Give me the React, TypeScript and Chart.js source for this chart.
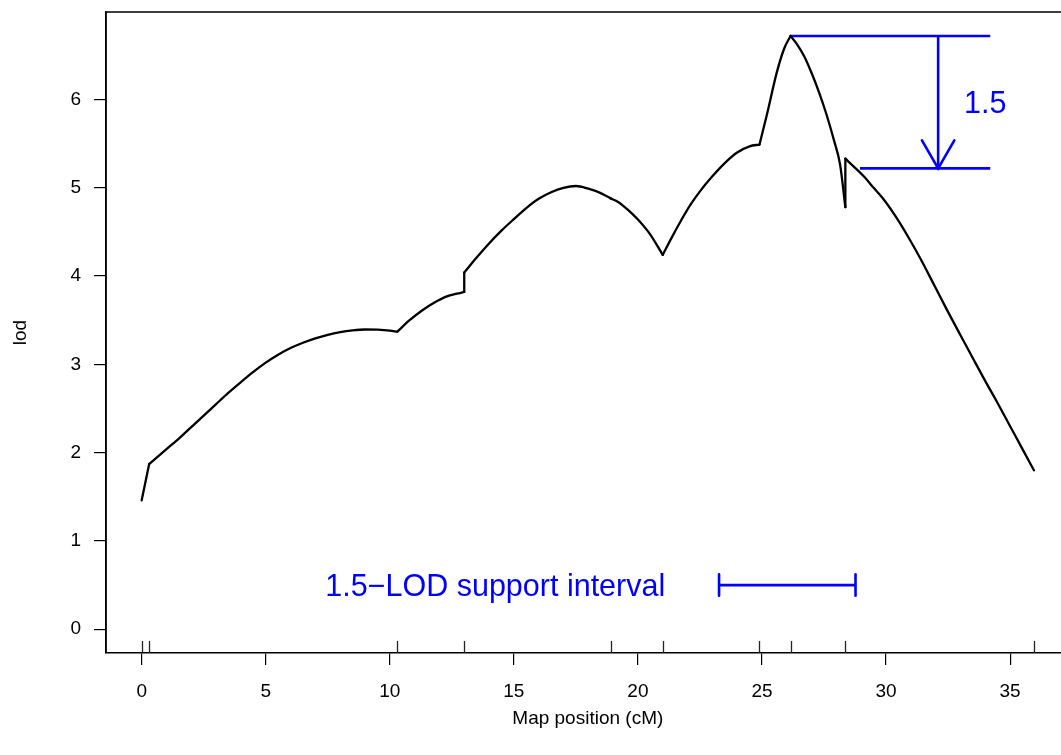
import React, { useEffect, useRef } from "react";
import { Chart, registerables } from "chart.js";

Chart.register(...registerables);

// ---- data ----
const positions = [
  0.0, 0.3, 1.0, 1.5, 2.0, 2.5, 3.0, 3.5, 4.0, 4.5, 5.0, 5.5, 6.0, 6.5, 7.0, 7.5, 8.0, 8.5, 9.0, 9.5, 10.0, 10.3,
  10.8, 11.3, 11.8, 12.3, 12.7, 13.0, 13.0, 13.5, 14.0, 14.5, 15.0, 15.5, 16.0, 16.5, 17.0, 17.5, 18.0, 18.5, 18.9,
  19.2, 19.6, 20.0, 20.5, 21.0, 21.35, 21.7, 22.1, 22.5, 23.0, 23.5, 24.0, 24.5, 24.9, 25.2, 25.6, 25.9, 26.15,
  26.4, 26.7, 27.0, 27.3, 27.6, 27.9, 28.15, 28.36, 28.36, 28.7, 29.1, 29.5, 29.9, 30.4, 30.9, 31.4, 31.9, 32.45,
  33.0, 33.5, 34.0, 34.5, 35.0, 35.5, 35.96,
];
const lods = [
  1.46, 1.87, 2.04, 2.16, 2.29, 2.42, 2.55, 2.68, 2.8, 2.915, 3.02, 3.11, 3.185, 3.245, 3.295, 3.335, 3.365, 3.385, 3.395, 3.393, 3.383, 3.37,
  3.5, 3.61, 3.7, 3.77, 3.8, 3.82, 4.04, 4.21, 4.37, 4.515, 4.645, 4.77, 4.875, 4.95, 5.0, 5.02, 4.99, 4.94, 4.88,
  4.84, 4.75, 4.64, 4.47, 4.24, 4.43, 4.61, 4.8, 4.96, 5.13, 5.28, 5.4, 5.47, 5.49, 5.83, 6.31, 6.58, 6.72,
  6.63, 6.49, 6.3, 6.08, 5.83, 5.54, 5.26, 4.78, 5.33, 5.24, 5.13, 5.0, 4.87, 4.67, 4.44, 4.19, 3.92, 3.62,
  3.33, 3.07, 2.81, 2.56, 2.3, 2.04, 1.8,
];
const markerPositions = [0, 0.3, 10.3, 13.0, 18.9, 21.0, 24.9, 26.15, 28.36, 35.96];
const xTicks = [0, 5, 10, 15, 20, 25, 30, 35];
const yTicks = [0, 1, 2, 3, 4, 5, 6];

const peakLod = 6.72;
const dropLod = 5.22;
const topSegX = [26.13, 34.2];
const bottomSegX = [28.95, 34.2];
const arrowX = 32.1;
const dropLabel = "1.5";
const dropLabelX = 34.0;
const intervalX = [23.27, 28.77];
const intervalY = 0.5;
const intervalLabel = "1.5\u2212LOD support interval";
const intervalLabelX = 14.25;

const xTitle = "Map position (cM)";
const yTitle = "lod";

const FONT = "'Liberation Sans', Arial, Helvetica, sans-serif";
const BLUE = "#0000ff";

type Pt = { x: number; y: number };

// split the curve at marker positions so each interval is smooth and markers stay sharp
function curvePieces(): Pt[][] {
  const pts: Pt[] = positions.map((x, i) => ({ x, y: lods[i] }));
  const pieces: Pt[][] = [];
  let cur: Pt[] = [pts[0]];
  for (let i = 1; i < pts.length; i++) {
    const p = pts[i];
    cur.push(p);
    if (markerPositions.includes(p.x) || p.x === pts[i - 1].x) {
      pieces.push(cur);
      cur = [p];
    }
  }
  if (cur.length > 1) pieces.push(cur);
  return pieces;
}

export default function App() {
  const ref = useRef<HTMLCanvasElement | null>(null);

  useEffect(() => {
    const canvas = ref.current;
    if (!canvas) return;

    const annotPlugin = {
      id: "annot",
      afterDatasetsDraw(chart: any) {
        const { ctx, chartArea } = chart;
        const xs = chart.scales.x;
        const ys = chart.scales.y;
        ctx.save();
        // rug of marker positions
        ctx.strokeStyle = "#222";
        ctx.lineWidth = 1.3;
        markerPositions.forEach((m) => {
          const px = Math.round(xs.getPixelForValue(m)) + 0.5;
          ctx.beginPath();
          ctx.moveTo(px, chartArea.bottom);
          ctx.lineTo(px, chartArea.bottom - 12);
          ctx.stroke();
        });
        // arrow head
        ctx.strokeStyle = BLUE;
        ctx.lineWidth = 2.6;
        ctx.lineCap = "round";
        const ax = xs.getPixelForValue(arrowX);
        const ay = ys.getPixelForValue(dropLod);
        ctx.beginPath();
        ctx.moveTo(ax - 16.2, ay - 28);
        ctx.lineTo(ax, ay);
        ctx.lineTo(ax + 16.2, ay - 28);
        ctx.stroke();
        // interval end caps
        const iy = ys.getPixelForValue(intervalY);
        intervalX.forEach((v) => {
          const px = xs.getPixelForValue(v);
          ctx.beginPath();
          ctx.moveTo(px, iy - 10.7);
          ctx.lineTo(px, iy + 10.7);
          ctx.stroke();
        });
        // texts
        const size = 30.5;
        ctx.fillStyle = BLUE;
        ctx.font = `${size}px ${FONT}`;
        ctx.textAlign = "center";
        ctx.textBaseline = "alphabetic";
        const ly = ys.getPixelForValue((peakLod + dropLod) / 2) + 0.358 * size;
        ctx.fillText(dropLabel, xs.getPixelForValue(dropLabelX), ly);
        ctx.fillText(intervalLabel, xs.getPixelForValue(intervalLabelX), iy + 0.358 * size);
        ctx.restore();
      },
      afterDraw(chart: any) {
        const { ctx, chartArea } = chart;
        ctx.save();
        ctx.strokeStyle = "#000";
        ctx.lineWidth = 1.5;
        ctx.beginPath();
        ctx.moveTo(chartArea.left, chartArea.bottom);
        ctx.lineTo(chartArea.left, chartArea.top);
        ctx.lineTo(chartArea.right, chartArea.top);
        ctx.lineTo(chartArea.right, chartArea.bottom);
        ctx.stroke();
        ctx.restore();
      },
    };

    const seg = (pts: Pt[]) => ({
      data: pts,
      borderColor: BLUE,
      borderWidth: 2.6,
      pointRadius: 0,
      borderCapStyle: "butt" as const,
      tension: 0,
      fill: false,
    });

    const curveSets = curvePieces().map((piece) => {
      const vertical = piece.length === 2 && piece[0].x === piece[1].x;
      return {
        data: piece,
        borderColor: "#000",
        borderWidth: 2.3,
        pointRadius: 0,
        tension: 0,
        cubicInterpolationMode: vertical ? "default" : "monotone",
        fill: false,
        borderJoinStyle: "round",
        borderCapStyle: "round",
      };
    });

    const chart = new Chart(canvas, {
      type: "line",
      data: {
        datasets: [
          ...curveSets,
          seg([
            { x: topSegX[0], y: peakLod },
            { x: topSegX[1], y: peakLod },
          ]),
          seg([
            { x: bottomSegX[0], y: dropLod },
            { x: bottomSegX[1], y: dropLod },
          ]),
          seg([
            { x: arrowX, y: peakLod },
            { x: arrowX, y: dropLod },
          ]),
          seg([
            { x: intervalX[0], y: intervalY },
            { x: intervalX[1], y: intervalY },
          ]),
        ] as any,
      },
      options: {
        animation: false,
        responsive: false,
        devicePixelRatio: 1,
        layout: { padding: { top: 12, right: 10.4, bottom: 0, left: 0 } },
        plugins: { legend: { display: false }, tooltip: { enabled: false } },
        scales: {
          x: {
            type: "linear",
            position: "bottom",
            min: -1.438,
            max: 37.398,
            afterBuildTicks: (s: any) => {
              s.ticks = xTicks.map((v) => ({ value: v }));
            },
            afterFit: (s: any) => {
              s.height = 102;
              s.paddingLeft = 0;
              s.paddingRight = 0;
            },
            grid: { drawOnChartArea: false, drawTicks: true, tickLength: 12, color: "#000", lineWidth: 1.2 },
            border: { display: true, color: "#000", width: 1.5 },
            ticks: {
              color: "#000",
              font: { size: 19, family: FONT },
              padding: 15,
              maxRotation: 0,
              autoSkip: false,
            },
            title: {
              display: true,
              text: xTitle,
              color: "#000",
              font: { size: 19, family: FONT },
              padding: { top: 0, bottom: 24.6 },
            },
          },
          y: {
            type: "linear",
            position: "left",
            min: -0.269,
            max: 6.991,
            afterBuildTicks: (s: any) => {
              s.ticks = yTicks.map((v) => ({ value: v }));
            },
            afterFit: (s: any) => {
              s.width = 106;
              s.paddingTop = 0;
              s.paddingBottom = 0;
            },
            grid: { drawOnChartArea: false, drawTicks: true, tickLength: 12, color: "#000", lineWidth: 1.2 },
            border: { display: true, color: "#000", width: 1.5 },
            ticks: {
              color: "#000",
              font: { size: 19, family: FONT },
              padding: 13,
            },
            title: {
              display: true,
              text: yTitle,
              color: "#000",
              font: { size: 19, family: FONT },
              padding: { top: 9, bottom: 0 },
            },
          },
        },
      } as any,
      plugins: [annotPlugin],
    });

    return () => {
      chart.destroy();
    };
  }, []);

  return (
    <div
      style={{
        position: "absolute",
        left: 0,
        top: 0,
        width: 1061,
        height: 755,
        overflow: "hidden",
        background: "#fff",
      }}
    >
      <canvas ref={ref} width={1080} height={755} style={{ width: 1080, height: 755, display: "block" }} />
    </div>
  );
}
